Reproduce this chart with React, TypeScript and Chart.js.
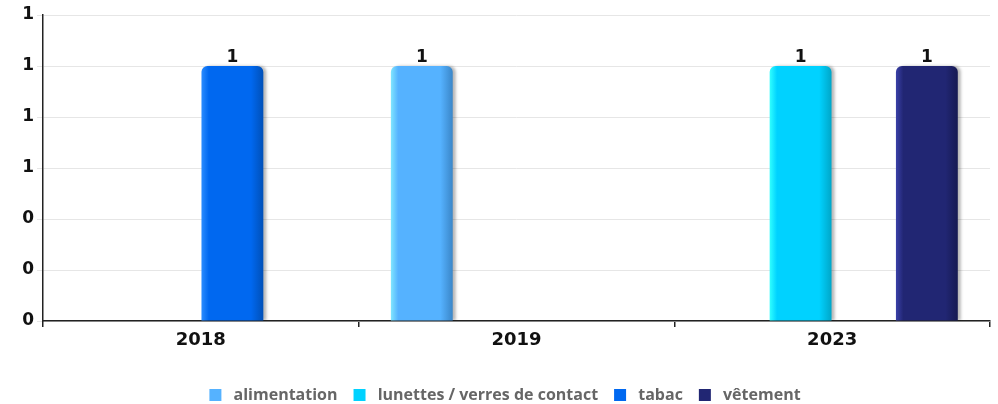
import React, { useEffect, useRef } from "react";
import { Chart, registerables } from "chart.js";

Chart.register(...registerables);

const categories = ["2018", "2019", "2023"];
const seriesNames = ["alimentation", "lunettes / verres de contact", "tabac", "vêtement"];
const alimentation = [null, 1, null];
const lunettes = [null, null, 1];
const tabac = [1, null, null];
const vetement = [null, null, 1];
const yTicksMax = 1.2;
const yTickStep = 0.2;

const baseColors = ["#55b2ff", "#00d2ff", "#0068f0", "#212673"];
const lightColors = ["#80e6ff", "#30ffff", "#2a8cff", "#3a40a8"];
const darkColors = ["#3a86c8", "#00a6c8", "#0050b8", "#161a52"];

const gradientPlugin = {
  id: "barGradient",
  beforeDatasetDraw(chart: any, args: any) {
    const ctx = chart.ctx;
    const meta = args.meta;
    const i = args.index;
    const data = chart.data.datasets[i].data;
    meta.data.forEach((el: any, j: number) => {
      if (!el || data[j] === null || data[j] === undefined) return;
      const w = el.width;
      const x0 = el.x - w / 2;
      const g = ctx.createLinearGradient(x0, 0, x0 + w, 0);
      g.addColorStop(0, lightColors[i]);
      g.addColorStop(0.12, baseColors[i]);
      g.addColorStop(0.8, baseColors[i]);
      g.addColorStop(1, darkColors[i]);
      el.options.backgroundColor = g;
    });
    ctx.save();
    ctx.shadowColor = "rgba(0,0,0,0.28)";
    ctx.shadowOffsetX = 3;
    ctx.shadowOffsetY = 0;
    ctx.shadowBlur = 3;
  },
  afterDatasetDraw(chart: any) {
    chart.ctx.restore();
  },
};

const labelPlugin = {
  id: "valueLabels",
  afterDatasetsDraw(chart: any) {
    const ctx = chart.ctx;
    ctx.save();
    ctx.font = "bold 17px 'DejaVu Sans'";
    ctx.fillStyle = "#111";
    ctx.textAlign = "center";
    ctx.textBaseline = "bottom";
    chart.data.datasets.forEach((ds: any, di: number) => {
      const meta = chart.getDatasetMeta(di);
      meta.data.forEach((el: any, j: number) => {
        const v = ds.data[j];
        if (v === null || v === undefined) return;
        ctx.fillText(String(v), el.x, el.y);
      });
    });
    ctx.restore();
  },
};

export default function App() {
  const ref = useRef<HTMLCanvasElement>(null);
  useEffect(() => {
    document.body.style.margin = "0";
    const seriesData = [alimentation, lunettes, tabac, vetement];
    const chart = new Chart(ref.current!, {
      type: "bar",
      data: {
        labels: categories,
        datasets: seriesNames.map((name, i) => ({
          label: name,
          data: seriesData[i],
          backgroundColor: () => baseColors[i],
          borderWidth: 0,
          borderRadius: { topLeft: 6, topRight: 6, bottomLeft: 0, bottomRight: 0 },
          borderSkipped: false,
          categoryPercentage: 0.8,
          barPercentage: 0.98,
        })),
      },
      options: {
        animation: false,
        responsive: false,
        maintainAspectRatio: false,
        layout: { padding: { left: 20, right: 8, top: 15, bottom: -9 } },
        plugins: {
          tooltip: { enabled: false },
          legend: {
            position: "bottom",
            labels: {
              boxWidth: 12,
              boxHeight: 12,
              padding: 0,
              color: "#666",
              font: { family: "'Open Sans'", weight: "bold", size: 16 },
              generateLabels: () =>
                seriesNames.map((n, i) => ({
                  text: " " + n + (i < seriesNames.length - 1 ? "\u2003" : ""),
                  fillStyle: baseColors[i],
                  strokeStyle: baseColors[i],
                  lineWidth: 0,
                  datasetIndex: i,
                  fontColor: "#666",
                })),
            },
          },
        },
        scales: {
          x: {
            offset: true,
            afterFit: (s: any) => {
              s.height = 66;
            },
            grid: {
              display: true,
              offset: true,
              drawOnChartArea: false,
              drawTicks: true,
              tickLength: 6,
              color: "#222",
              lineWidth: 1.5,
            },
            border: { color: "#222", width: 1.5 },
            ticks: {
              color: "#111",
              padding: 3,
              font: { family: "'DejaVu Sans'", weight: "bold", size: 18 },
            },
          },
          y: {
            min: 0,
            max: yTicksMax,
            afterFit: (s: any) => {
              s.width = 23;
            },
            grid: { color: "#e6e6e6", tickLength: 6, lineWidth: 1 },
            border: { color: "#222", width: 1.5 },
            ticks: {
              stepSize: yTickStep,
              color: "#111",
              padding: 3,
              font: { family: "'DejaVu Sans'", weight: "bold", size: 17 },
              callback: (v: any) => Number(v).toFixed(0),
            },
          },
        },
      },
      plugins: [gradientPlugin, labelPlugin],
    });
    return () => chart.destroy();
  }, []);
  return <canvas ref={ref} width={998} height={404} style={{ display: "block" }} />;
}
